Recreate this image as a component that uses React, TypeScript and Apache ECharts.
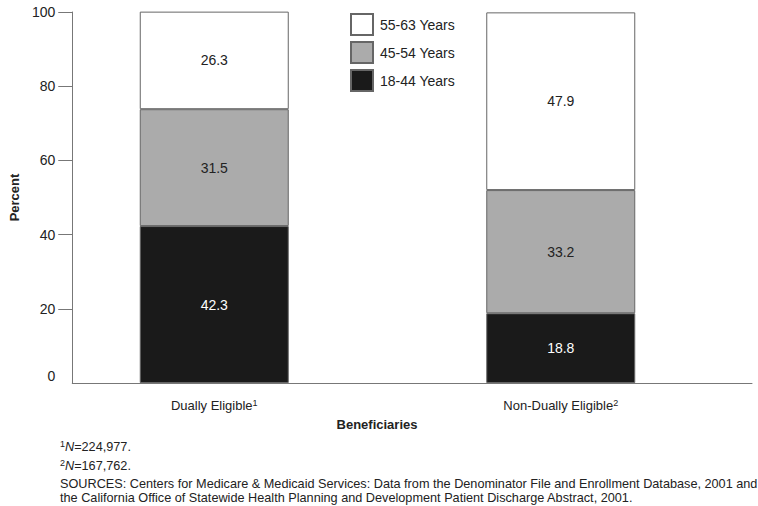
import React, { useEffect, useRef } from "react";
import * as echarts from "echarts";

const categories = ["Dually Eligible", "Non-Dually Eligible"];
const categorySup = ["1", "2"];
const seriesNames = ["18-44 Years", "45-54 Years", "55-63 Years"];
const age18to44 = [42.3, 18.8];
const age45to54 = [31.5, 33.2];
const age55to63 = [26.3, 47.9];
const yTicks = [0, 20, 40, 60, 80, 100];
const footnotes = ["N=224,977.", "N=167,762."];
const sources1 =
  "SOURCES: Centers for Medicare & Medicaid Services: Data from the Denominator File and Enrollment Database, 2001 and";
const sources2 =
  "the California Office of Statewide Health Planning and Development Patient Discharge Abstract, 2001.";

const FONT = "'Liberation Sans', Arial, Helvetica, sans-serif";
const TXT = "#222";

export default function App() {
  const ref = useRef<HTMLDivElement>(null);
  useEffect(() => {
    if (!ref.current) return;
    const chart = echarts.init(ref.current, null, { renderer: "svg" });
    const colors = ["#1a1a1a", "#ababab", "#ffffff"];
    const data = [age18to44, age45to54, age55to63];
    const labelColors = ["#ffffff", TXT, TXT];
    const gridTop = 12;
    const gridBottom = 123;
    chart.setOption({
      animation: false,
      textStyle: { fontFamily: FONT },
      grid: [
        { left: 41, right: 24, top: gridTop, bottom: gridBottom },
        { left: 59, right: 6, top: gridTop, bottom: gridBottom },
      ],
      legend: {
        orient: "vertical",
        left: 345,
        top: 8,
        itemWidth: 22,
        itemHeight: 21,
        itemGap: 5,
        icon: "rect",
        data: [seriesNames[2], seriesNames[1], seriesNames[0]],
        textStyle: { fontSize: 14, lineHeight: 21, color: TXT, fontFamily: FONT, padding: [0, 0, 0, 2] },
      },
      xAxis: [
        {
          type: "category",
          gridIndex: 0,
          data: categories,
          axisLine: { show: false },
          axisTick: { show: false },
          axisLabel: {
            margin: 15,
            fontSize: 13,
            color: TXT,
            fontFamily: FONT,
            formatter: (v: string) => {
              const i = categories.indexOf(v);
              return `{a|${v}}{s|${categorySup[i]}}`;
            },
            rich: {
              a: { fontSize: 13, color: TXT, fontFamily: FONT, lineHeight: 15 },
              s: { fontSize: 9, color: TXT, fontFamily: FONT, verticalAlign: "top", lineHeight: 15 },
            },
          },
        },
        {
          type: "category",
          gridIndex: 1,
          data: [],
          axisLine: { show: true, lineStyle: { color: "#777", width: 1 } },
          axisTick: { show: false },
          axisLabel: { show: false },
        },
      ],
      yAxis: [
        {
          type: "value",
          gridIndex: 0,
          min: 0,
          max: 100,
          interval: 20,
          show: false,
        },
        {
          type: "value",
          gridIndex: 1,
          min: 0,
          max: 100,
          interval: 20,
          name: "Percent",
          nameLocation: "middle",
          nameRotate: 90,
          nameGap: 44,
          nameTextStyle: { fontSize: 13, fontWeight: "bold", color: TXT, fontFamily: FONT },
          splitLine: { show: false },
          axisLine: { show: true, lineStyle: { color: "#777", width: 1 } },
          axisTick: {
            show: true,
            length: 14,
            lineStyle: { color: "#777" },
            customValues: yTicks.filter((t) => t !== 0),
          },
          axisLabel: {
            margin: 17,
            fontSize: 14,
            color: TXT,
            fontFamily: FONT,
            customValues: yTicks,
            verticalAlignMinLabel: "bottom",
          },
        },
      ],
      series: seriesNames.map((name, i) => ({
        name,
        type: "bar",
        stack: "total",
        xAxisIndex: 0,
        yAxisIndex: 0,
        barWidth: 149,
        data: data[i],
        itemStyle: { color: colors[i], borderColor: "#666", borderWidth: 1 },
        label: {
          show: true,
          position: "inside",
          fontSize: 14,
          color: labelColors[i],
          fontFamily: FONT,
          formatter: (p: any) => p.value.toFixed(1),
        },
      })),
      graphic: [
        {
          type: "text",
          x: 377,
          y: 424,
          style: {
            text: "Beneficiaries",
            fontSize: 13,
            fontWeight: "bold",
            fill: TXT,
            fontFamily: FONT,
            align: "center",
            verticalAlign: "middle",
          },
        },
        ...footnotes.map((f, i) => ({
          type: "text",
          x: 60,
          y: 447 + i * 19,
          style: {
            text: `{s|${i + 1}}{it|N}{n|${f.slice(1)}}`,
            fill: TXT,
            verticalAlign: "middle",
            rich: {
              s: { fontSize: 9, fill: TXT, fontFamily: FONT, verticalAlign: "top", lineHeight: 15 },
              it: { fontSize: 12.7, fill: TXT, fontFamily: FONT, fontStyle: "italic", lineHeight: 15 },
              n: { fontSize: 12.7, fill: TXT, fontFamily: FONT, lineHeight: 15 },
            },
          },
        })),
        {
          type: "text",
          x: 60,
          y: 491,
          style: {
            text: sources1 + "\n" + sources2,
            fontSize: 12.7,
            lineHeight: 14,
            fill: TXT,
            fontFamily: FONT,
            verticalAlign: "middle",
          },
        },
      ],
    });
    return () => chart.dispose();
  }, []);
  return <div ref={ref} style={{ width: 758, height: 506, position: "absolute", left: 0, top: 0 }} />;
}
